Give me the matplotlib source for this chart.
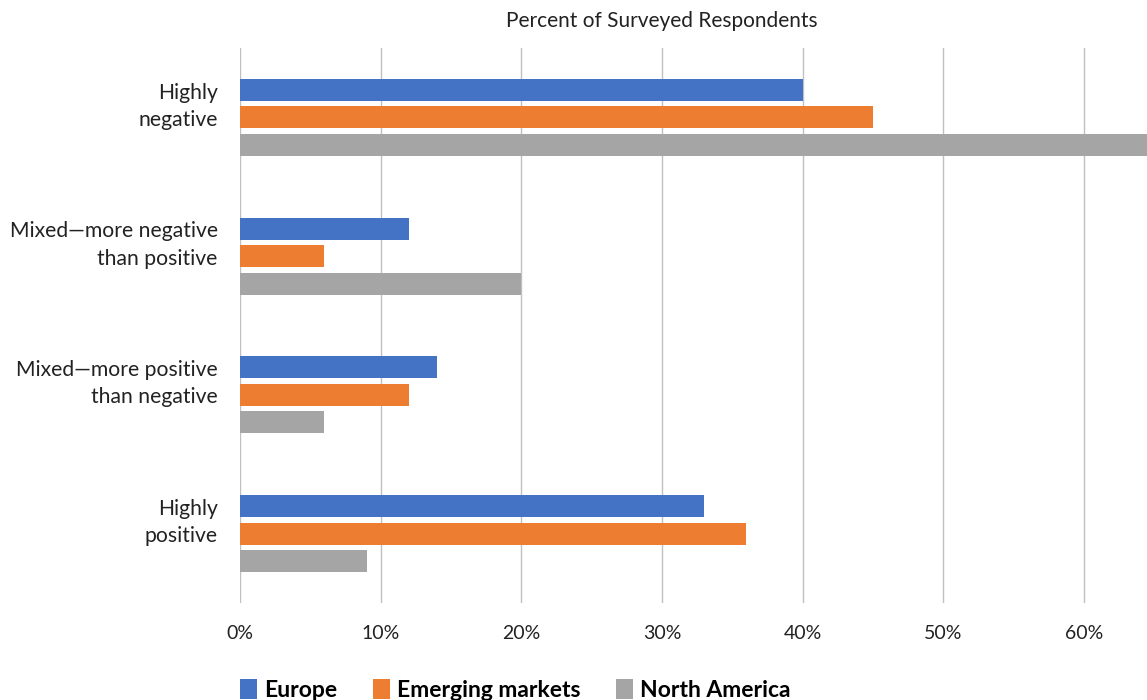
import matplotlib.pyplot as plt
import numpy as np

plt.rcParams['font.family'] = ['Lato', 'DejaVu Sans']

# 回答カテゴリ（上から順）
categories = ['Highly\nnegative', 'Mixed\u2014more negative\nthan positive',
              'Mixed\u2014more positive\nthan negative', 'Highly\npositive']
europe = [40, 12, 14, 33]
emerging = [45, 6, 12, 36]
north_america = [66, 20, 6, 9]
tick_vals = [0, 10, 20, 30, 40, 50, 60]

series = [('Europe', europe, '#4472C4'),
          ('Emerging markets', emerging, '#ED7D31'),
          ('North America', north_america, '#A5A5A5')]

fig = plt.figure(figsize=(11.47, 7), dpi=100)
ax = fig.add_axes([240 / 1147, 97 / 700, 1 - 240 / 1147, 555 / 700])

y = np.arange(len(categories))
step = 0.198
for i, (name, vals, col) in enumerate(series):
    ax.barh(y + (i - 1) * step, vals, height=0.159, color=col, label=name, zorder=3)

ax.set_ylim(3.5, -0.5)
ax.set_xlim(0, 64.47)
ax.set_xticks(tick_vals)
ax.set_xticklabels(['{}%'.format(v) for v in tick_vals], fontsize=14)
ax.set_yticks(y - 0.12)
ax.set_yticklabels(categories, fontsize=15.2, linespacing=1.45, ha='right')
ax.tick_params(axis='both', length=0, colors='#222222')
ax.tick_params(axis='y', pad=16)
ax.tick_params(axis='x', pad=16)
ax.grid(axis='x', color='#c0c0c0', linewidth=1, zorder=0)
for s in ax.spines.values():
    s.set_visible(False)

fig.text(662 / 1147, 1 - 21 / 700, 'Percent of Surveyed Respondents',
         ha='center', va='center', fontsize=15, color='#222222')

leg = fig.legend(loc='center left', bbox_to_anchor=(240 / 1147, 1 - 690 / 700), ncol=3,
                 frameon=False, prop={'weight': 'bold', 'size': 16.5},
                 handlelength=0.75, handleheight=1.0, handletextpad=0.3,
                 columnspacing=1.56, borderaxespad=0, borderpad=0)

fig.savefig('out.png', dpi=100)
